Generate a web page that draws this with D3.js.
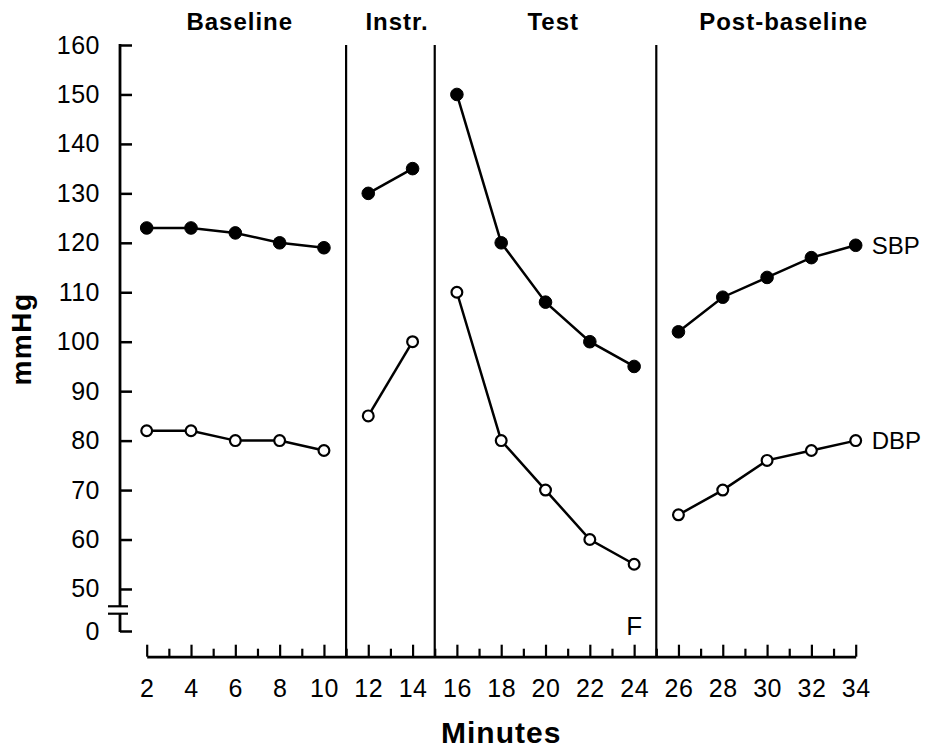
<!DOCTYPE html>
<html>
<head>
<meta charset="utf-8">
<script src="https://cdn.jsdelivr.net/npm/d3@7"></script>
<style>
  body { margin: 0; background: #fff; }
  svg { display: block; }
  text { font-family: "Liberation Sans", Arial, sans-serif; fill: #000; }
</style>
</head>
<body>
<div id="chart"></div>
<script>
// Blood pressure by minute
const minutes = [2, 4, 6, 8, 10, 12, 14, 16, 18, 20, 22, 24, 26, 28, 30, 32, 34];
const sbp = [123, 123, 122, 120, 119, 130, 135, 150, 120, 108, 100, 95, 102, 109, 113, 117, 119.5];
const dbp = [82, 82, 80, 80, 78, 85, 100, 110, 80, 70, 60, 55, 65, 70, 76, 78, 80];

const phaseNames = ["Baseline", "Instr.", "Test", "Post-baseline"];
const phaseBreaks = [11, 15, 25];

const yTicks = [0, 50, 60, 70, 80, 90, 100, 110, 120, 130, 140, 150, 160];
const xMajor = d3.range(2, 35, 2);
const xMinor = d3.range(3, 34, 2);

const width = 925;
const height = 748;

// where each phase title sits (in minutes)
const phaseLabelAt = [6.2, 13.3, 20.35, 30.75];

function main() {
    const svg = d3.select("#chart")
        .append("svg")
        .attr("width", width)
        .attr("height", height);

    const axisX = 120;
    const axisY = 656.7;

    const x = d3.scaleLinear()
        .domain([2, 34])
        .range([146.7, 855.7]);

    // broken axis: 0 sits just under the break, 45..160 is linear
    const y = d3.scaleLinear()
        .domain([0, 45, 160])
        .range([631, 613.7, 45]);

    // y axis ticks + labels
    const yAxis = svg.append("g")
        .attr("transform", `translate(${axisX},0)`)
        .call(d3.axisLeft(y)
            .tickValues(yTicks)
            .tickSizeInner(-12)
            .tickSizeOuter(0)
            .tickPadding(20));
    yAxis.select(".domain").remove();
    yAxis.selectAll(".tick line").attr("stroke", "#000").attr("stroke-width", 2.5);
    yAxis.selectAll(".tick text")
        .attr("font-size", 25)
        .attr("letter-spacing", 0.5)
        .attr("font-family", "'Liberation Sans', Arial, sans-serif");

    // axis line with the break
    const breakTop = y(46.5);
    const breakBottom = y(45);
    svg.append("line")
        .attr("x1", axisX).attr("x2", axisX)
        .attr("y1", y(160) - 1).attr("y2", breakTop)
        .attr("stroke", "#000").attr("stroke-width", 2.8);
    svg.append("line")
        .attr("x1", axisX).attr("x2", axisX)
        .attr("y1", breakBottom).attr("y2", y(0) + 1)
        .attr("stroke", "#000").attr("stroke-width", 2.8);
    [breakTop, breakBottom].forEach((by) => {
        svg.append("line")
            .attr("x1", axisX - 12).attr("x2", axisX + 8)
            .attr("y1", by).attr("y2", by)
            .attr("stroke", "#000").attr("stroke-width", 2.2);
    });

    // x axis, major ticks with labels
    const xAxis = svg.append("g")
        .attr("transform", `translate(0,${axisY})`)
        .call(d3.axisBottom(x)
            .tickValues(xMajor)
            .tickSizeInner(-12)
            .tickSizeOuter(0)
            .tickPadding(23));
    xAxis.select(".domain").attr("stroke", "#000").attr("stroke-width", 2.8);
    xAxis.selectAll(".tick line").attr("stroke", "#000").attr("stroke-width", 2.2);
    xAxis.selectAll(".tick text")
        .attr("font-size", 25)
        .attr("letter-spacing", 0.5)
        .attr("font-family", "'Liberation Sans', Arial, sans-serif");

    // minor ticks
    const xMinorAxis = svg.append("g")
        .attr("transform", `translate(0,${axisY})`)
        .call(d3.axisBottom(x)
            .tickValues(xMinor)
            .tickSizeInner(-8)
            .tickSizeOuter(0)
            .tickFormat(""));
    xMinorAxis.select(".domain").remove();
    xMinorAxis.selectAll(".tick line").attr("stroke", "#000").attr("stroke-width", 2.2);

    // phase dividers
    svg.append("g")
        .selectAll("line")
        .data(phaseBreaks)
        .enter()
        .append("line")
        .attr("x1", (d) => x(d)).attr("x2", (d) => x(d))
        .attr("y1", y(160)).attr("y2", axisY)
        .attr("stroke", "#000")
        .attr("stroke-width", 2.2);

    // phase titles
    svg.append("g")
        .selectAll("text")
        .data(phaseNames)
        .enter()
        .append("text")
        .attr("x", (d, i) => x(phaseLabelAt[i]))
        .attr("y", 30)
        .attr("text-anchor", "middle")
        .attr("font-size", 24)
        .attr("font-weight", "bold")
        .attr("letter-spacing", 1)
        .text((d) => d);

    // axis titles
    svg.append("text")
        .attr("transform", `translate(31,339) rotate(-90)`)
        .attr("text-anchor", "middle")
        .attr("font-size", 28)
        .attr("font-weight", "bold")
        .attr("letter-spacing", 1.5)
        .text("mmHg");

    svg.append("text")
        .attr("x", (x(2) + x(34)) / 2)
        .attr("y", 743)
        .attr("text-anchor", "middle")
        .attr("font-size", 30)
        .attr("font-weight", "bold")
        .attr("letter-spacing", 1)
        .text("Minutes");

    // split each series by phase so lines don't cross dividers
    const phaseOf = (m) => d3.bisect(phaseBreaks, m);
    const series = [
        {name: "SBP", values: sbp, open: false},
        {name: "DBP", values: dbp, open: true},
    ];

    const line = d3.line()
        .x((d) => x(d.m))
        .y((d) => y(d.v));

    series.forEach((s) => {
        const pts = minutes.map((m, i) => ({m: m, v: s.values[i], p: phaseOf(m)}));
        const groups = d3.groups(pts, (d) => d.p);

        svg.append("g")
            .selectAll("path")
            .data(groups)
            .enter()
            .append("path")
            .attr("d", (d) => line(d[1]))
            .attr("fill", "none")
            .attr("stroke", "#000")
            .attr("stroke-width", 2.5);

        svg.append("g")
            .selectAll("circle")
            .data(pts)
            .enter()
            .append("circle")
            .attr("cx", (d) => x(d.m))
            .attr("cy", (d) => y(d.v))
            .attr("r", s.open ? 5.4 : 6.3)
            .attr("fill", s.open ? "#fff" : "#000")
            .attr("stroke", "#000")
            .attr("stroke-width", s.open ? 2.2 : 1);

        const last = pts[pts.length - 1];
        svg.append("text")
            .attr("x", x(last.m) + 16)
            .attr("y", y(last.v))
            .attr("dy", "0.35em")
            .attr("font-size", 24)
            .text(s.name);
    });

    // "F" marker at end of test
    svg.append("text")
        .attr("x", x(24))
        .attr("y", axisY - 22)
        .attr("text-anchor", "middle")
        .attr("font-size", 26)
        .text("F");
}

main()
</script>
</body>
</html>
